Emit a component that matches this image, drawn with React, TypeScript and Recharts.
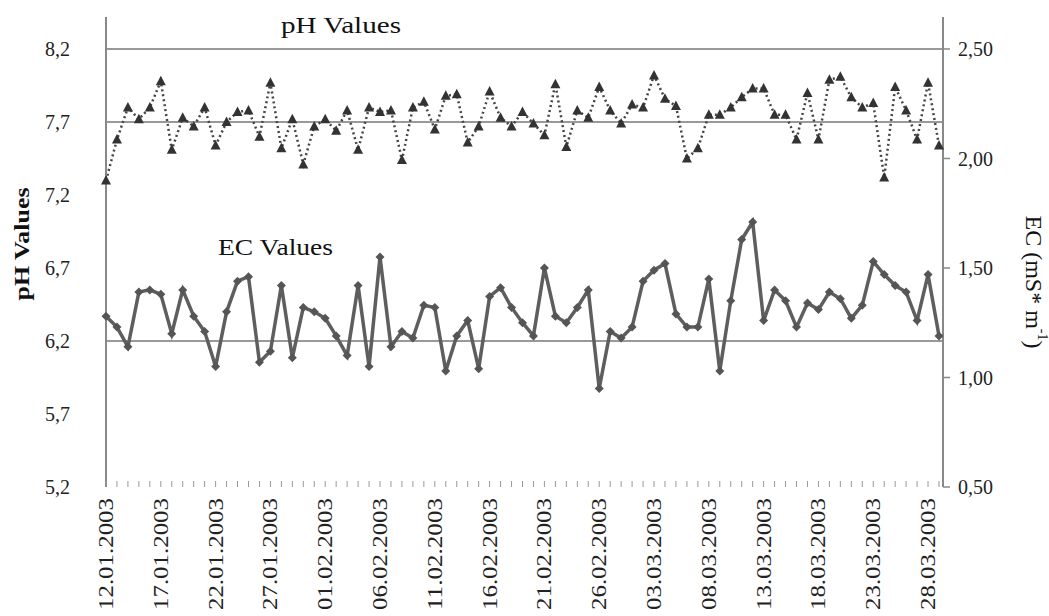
import React from 'react';
import { LineChart, Line, XAxis, YAxis, ReferenceLine } from 'recharts';

const dates = [
  '12.01.2003', '13.01.2003', '14.01.2003', '15.01.2003', '16.01.2003', '17.01.2003', '18.01.2003',
  '19.01.2003', '20.01.2003', '21.01.2003', '22.01.2003', '23.01.2003', '24.01.2003', '25.01.2003',
  '26.01.2003', '27.01.2003', '28.01.2003', '29.01.2003', '30.01.2003', '31.01.2003',
  '01.02.2003', '02.02.2003', '03.02.2003', '04.02.2003', '05.02.2003', '06.02.2003', '07.02.2003',
  '08.02.2003', '09.02.2003', '10.02.2003', '11.02.2003', '12.02.2003', '13.02.2003', '14.02.2003',
  '15.02.2003', '16.02.2003', '17.02.2003', '18.02.2003', '19.02.2003', '20.02.2003', '21.02.2003',
  '22.02.2003', '23.02.2003', '24.02.2003', '25.02.2003', '26.02.2003', '27.02.2003', '28.02.2003',
  '01.03.2003', '02.03.2003', '03.03.2003', '04.03.2003', '05.03.2003', '06.03.2003', '07.03.2003',
  '08.03.2003', '09.03.2003', '10.03.2003', '11.03.2003', '12.03.2003', '13.03.2003', '14.03.2003',
  '15.03.2003', '16.03.2003', '17.03.2003', '18.03.2003', '19.03.2003', '20.03.2003', '21.03.2003',
  '22.03.2003', '23.03.2003', '24.03.2003', '25.03.2003', '26.03.2003', '27.03.2003', '28.03.2003',
  '29.03.2003',
];

const phValues = [
  7.30, 7.58, 7.80, 7.72, 7.80, 7.98, 7.51, 7.73, 7.67, 7.80,
  7.54, 7.70, 7.77, 7.78, 7.60, 7.97, 7.52, 7.72, 7.41, 7.67,
  7.72, 7.64, 7.78, 7.51, 7.80, 7.77, 7.78, 7.44, 7.80, 7.84,
  7.65, 7.88, 7.89, 7.56, 7.67, 7.91, 7.73, 7.67, 7.77, 7.69,
  7.61, 7.96, 7.53, 7.78, 7.73, 7.94, 7.78, 7.69, 7.82, 7.80,
  8.02, 7.86, 7.81, 7.45, 7.52, 7.75, 7.75, 7.80, 7.87, 7.93,
  7.93, 7.75, 7.75, 7.58, 7.90, 7.58, 7.99, 8.01, 7.87, 7.80,
  7.83, 7.32, 7.94, 7.78, 7.58, 7.97, 7.54,
];

const ecValues = [
  1.28, 1.23, 1.14, 1.39, 1.40, 1.38, 1.20, 1.40, 1.28, 1.21,
  1.05, 1.30, 1.44, 1.46, 1.07, 1.12, 1.42, 1.09, 1.32, 1.30,
  1.27, 1.19, 1.10, 1.42, 1.05, 1.55, 1.14, 1.21, 1.18, 1.33,
  1.32, 1.03, 1.19, 1.26, 1.04, 1.37, 1.41, 1.32, 1.25, 1.19,
  1.50, 1.28, 1.25, 1.32, 1.40, 0.95, 1.21, 1.18, 1.23, 1.44,
  1.49, 1.52, 1.29, 1.23, 1.23, 1.45, 1.03, 1.35, 1.63, 1.71,
  1.26, 1.40, 1.35, 1.23, 1.34, 1.31, 1.39, 1.36, 1.27, 1.33,
  1.53, 1.47, 1.42, 1.39, 1.26, 1.47, 1.19,
];

const phTicks = [5.2, 5.7, 6.2, 6.7, 7.2, 7.7, 8.2];
const ecTicks = [0.5, 1.0, 1.5, 2.0, 2.5];
const phLines = [8.2, 7.7, 6.2];

const data = dates.map((date, i) => ({ date, ph: phValues[i], ec: ecValues[i] }));

const serif = 'Liberation Serif, serif';

const DateTick = (props: any) => {
  const { x, y, payload } = props;
  const idx = payload?.index ?? props.index;
  return (
    <g>
      <line x1={x} x2={x} y1={y - 6} y2={y} stroke="#999" strokeWidth={1} />
      {idx % 5 === 0 && (
        <text
          x={x}
          y={y + 11}
          transform={`rotate(-90 ${x} ${y + 11})`}
          textAnchor="end"
          dominantBaseline="central"
          textLength={112}
          lengthAdjust="spacingAndGlyphs"
          fontFamily={serif}
          fontSize={20}
          fill="#222"
        >
          {payload.value}
        </text>
      )}
    </g>
  );
};

const Triangle = (props: any) => {
  const { cx, cy, index } = props;
  if (cx == null || cy == null) return <g key={`t${index}`} />;
  return (
    <path
      key={`t${index}`}
      d={`M${cx},${cy - 5.5} L${cx + 5},${cy + 4} L${cx - 5},${cy + 4} Z`}
      fill="#333"
    />
  );
};

const Diamond = (props: any) => {
  const { cx, cy, index } = props;
  if (cx == null || cy == null) return <g key={`d${index}`} />;
  return (
    <path
      key={`d${index}`}
      d={`M${cx},${cy - 4.5} L${cx + 4.5},${cy} L${cx},${cy + 4.5} L${cx - 4.5},${cy} Z`}
      fill="#555"
    />
  );
};

export default function App() {
  return (
    <div style={{ position: 'absolute', left: 0, top: 0, width: 1049, height: 616, background: '#fff' }}>
      <LineChart
        width={1049}
        height={616}
        data={data}
        margin={{ top: 17, right: 26, left: 46, bottom: 9 }}
      >
        <XAxis
          dataKey="date"
          interval={0}
          tick={<DateTick />}
          tickLine={false}
          axisLine={false}
          tickSize={0}
          tickMargin={0}
          height={120}
          padding={{ left: 0, right: 4 }}
        />
        <YAxis
          yAxisId="ph"
          domain={[5.2, 8.42]}
          ticks={phTicks}
          allowDataOverflow
          tickFormatter={(v: number) => v.toFixed(1).replace('.', ',')}
          axisLine={{ stroke: '#888', strokeWidth: 2 }}
          tickLine={false}
          tickSize={6}
          tickMargin={30}
          width={60}
          tick={{ fontFamily: serif, fontSize: 20, fill: '#222' }}
        />
        <YAxis
          yAxisId="ec"
          orientation="right"
          domain={[0.5, 2.646]}
          ticks={ecTicks}
          allowDataOverflow
          tickFormatter={(v: number) => v.toFixed(2).replace('.', ',')}
          axisLine={{ stroke: '#888', strokeWidth: 2 }}
          tickLine={{ stroke: '#888', strokeWidth: 1.5 }}
          tickSize={7}
          tickMargin={8}
          width={80}
          tick={{ fontFamily: serif, fontSize: 20, fill: '#222' }}
        />
        {phLines.map((v) => (
          <ReferenceLine key={v} yAxisId="ph" y={v} stroke="#999" strokeWidth={2} />
        ))}
        <Line
          yAxisId="ph"
          dataKey="ph"
          type="linear"
          stroke="#444"
          strokeWidth={2.5}
          strokeDasharray="2 3"
          dot={Triangle}
          activeDot={false}
          isAnimationActive={false}
        />
        <Line
          yAxisId="ec"
          dataKey="ec"
          type="linear"
          stroke="#5e5e5e"
          strokeWidth={3.5}
          dot={Diamond}
          activeDot={false}
          isAnimationActive={false}
        />
      </LineChart>
      <svg
        width={1049}
        height={616}
        style={{ position: 'absolute', left: 0, top: 0, pointerEvents: 'none' }}
      >
        <text x={281} y={33} textLength={120} lengthAdjust="spacingAndGlyphs" fontFamily={serif} fontSize={24} fill="#111">
          pH Values
        </text>
        <text x={218} y={255} textLength={115} lengthAdjust="spacingAndGlyphs" fontFamily={serif} fontSize={24} fill="#111">
          EC Values
        </text>
        <text
          x={22}
          y={244}
          transform="rotate(-90 22 244)"
          textAnchor="middle"
          dominantBaseline="central"
          textLength={113}
          lengthAdjust="spacingAndGlyphs"
          fontFamily={serif}
          fontSize={21}
          fontWeight="bold"
          fill="#111"
        >
          pH Values
        </text>
        <text
          x={1034}
          y={282}
          transform="rotate(90 1034 282)"
          textAnchor="middle"
          dominantBaseline="central"
          fontFamily={serif}
          fontSize={24}
          fill="#111"
        >
          EC (mS* m
          <tspan fontSize={14} dy={-9}>-1</tspan>
          <tspan dy={9}>)</tspan>
        </text>
      </svg>
    </div>
  );
}
